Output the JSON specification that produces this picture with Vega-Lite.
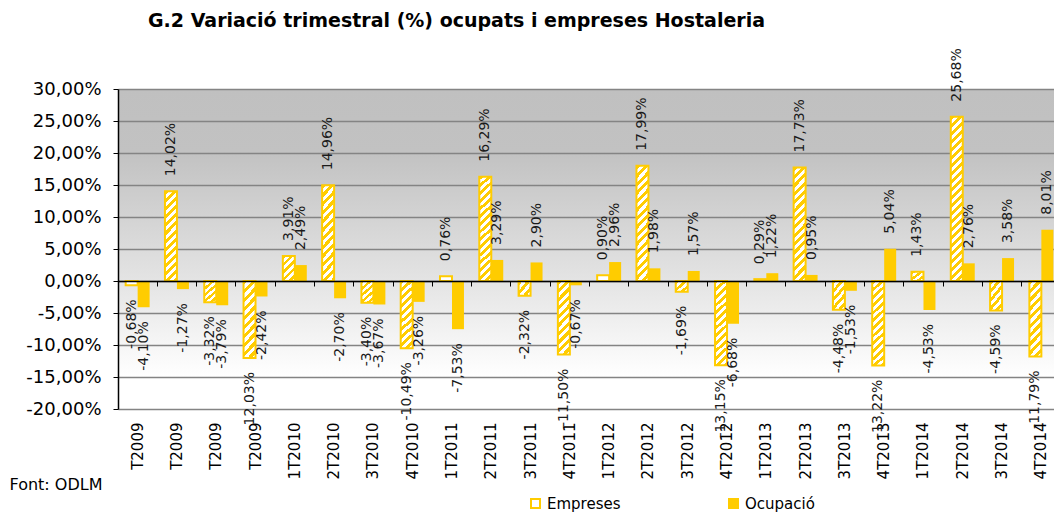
{
"$schema": "https://vega.github.io/schema/vega-lite/v6.json",
"width": 936, "height": 320,
"autosize": {"type": "none"},
"padding": {"left": 118, "top": 89, "right": 0, "bottom": 104},
"background": "white",
"view": {"stroke": null, "fill": {"gradient": "linear", "x1": 0, "y1": 0, "x2": 0, "y2": 1, "stops": [{"offset": 0, "color": "#C0C0C0"}, {"offset": 0.2, "color": "#C2C2C2"}, {"offset": 0.6, "color": "#E4E4E4"}, {"offset": 0.9, "color": "#FFFFFF"}, {"offset": 1, "color": "#FFFFFF"}]}},
"title": {"text": "G.2 Variació trimestral (%) ocupats i empreses Hostaleria", "anchor": "start", "frame": "group", "dx": 30, "offset": 17, "fontSize": 19, "fontWeight": "bold", "color": "#000"},
"datasets": {"d": [
{"t":"1T2009","serie":"Empreses","v":-0.0068},{"t":"1T2009","serie":"Ocupació","v":-0.041},
{"t":"2T2009","serie":"Empreses","v":0.1402},{"t":"2T2009","serie":"Ocupació","v":-0.0127},
{"t":"3T2009","serie":"Empreses","v":-0.0332},{"t":"3T2009","serie":"Ocupació","v":-0.0379},
{"t":"4T2009","serie":"Empreses","v":-0.1203},{"t":"4T2009","serie":"Ocupació","v":-0.0242},
{"t":"1T2010","serie":"Empreses","v":0.0391},{"t":"1T2010","serie":"Ocupació","v":0.0249},
{"t":"2T2010","serie":"Empreses","v":0.1496},{"t":"2T2010","serie":"Ocupació","v":-0.027},
{"t":"3T2010","serie":"Empreses","v":-0.034},{"t":"3T2010","serie":"Ocupació","v":-0.0367},
{"t":"4T2010","serie":"Empreses","v":-0.1049},{"t":"4T2010","serie":"Ocupació","v":-0.0326},
{"t":"1T2011","serie":"Empreses","v":0.0076},{"t":"1T2011","serie":"Ocupació","v":-0.0753},
{"t":"2T2011","serie":"Empreses","v":0.1629},{"t":"2T2011","serie":"Ocupació","v":0.0329},
{"t":"3T2011","serie":"Empreses","v":-0.0232},{"t":"3T2011","serie":"Ocupació","v":0.029},
{"t":"4T2011","serie":"Empreses","v":-0.115},{"t":"4T2011","serie":"Ocupació","v":-0.0067},
{"t":"1T2012","serie":"Empreses","v":0.009},{"t":"1T2012","serie":"Ocupació","v":0.0296},
{"t":"2T2012","serie":"Empreses","v":0.1799},{"t":"2T2012","serie":"Ocupació","v":0.0198},
{"t":"3T2012","serie":"Empreses","v":-0.0169},{"t":"3T2012","serie":"Ocupació","v":0.0157},
{"t":"4T2012","serie":"Empreses","v":-0.1315},{"t":"4T2012","serie":"Ocupació","v":-0.0668},
{"t":"1T2013","serie":"Empreses","v":0.0029},{"t":"1T2013","serie":"Ocupació","v":0.0122},
{"t":"2T2013","serie":"Empreses","v":0.1773},{"t":"2T2013","serie":"Ocupació","v":0.0095},
{"t":"3T2013","serie":"Empreses","v":-0.0448},{"t":"3T2013","serie":"Ocupació","v":-0.0153},
{"t":"4T2013","serie":"Empreses","v":-0.1322},{"t":"4T2013","serie":"Ocupació","v":0.0504},
{"t":"1T2014","serie":"Empreses","v":0.0143},{"t":"1T2014","serie":"Ocupació","v":-0.0453},
{"t":"2T2014","serie":"Empreses","v":0.2568},{"t":"2T2014","serie":"Ocupació","v":0.0276},
{"t":"3T2014","serie":"Empreses","v":-0.0459},{"t":"3T2014","serie":"Ocupació","v":0.0358},
{"t":"4T2014","serie":"Empreses","v":-0.1179},{"t":"4T2014","serie":"Ocupació","v":0.0801}
]},
"data": {"name": "d"},
"resolve": {"axis": {"x": "independent", "y": "independent"}},
"layer": [
{
"mark": {"type": "bar", "stroke": "#FFCC00"},
"encoding": {
"x": {"field": "t", "type": "nominal", "sort": null,
 "scale": {"domain": ["1T2009","2T2009","3T2009","4T2009","1T2010","2T2010","3T2010","4T2010","1T2011","2T2011","3T2011","4T2011","1T2012","2T2012","3T2012","4T2012","1T2013","2T2013","3T2013","4T2013","1T2014","2T2014","3T2014","4T2014"], "range": [0, 943], "paddingInner": 0, "paddingOuter": 0},
 "axis": {"orient": "bottom", "labelAngle": -90, "labelFontSize": 15, "labelColor": "#000", "labelPadding": 13, "ticks": false, "tickSize": 0, "domain": false, "grid": false,
  "labelExpr": "indexof(datum.label, '2009') >= 0 ? 'T2009' : datum.label",
  "title": "Font: ODLM", "titleX": -109, "titleY": 80, "titleAlign": "left", "titleAngle": 0, "titleBaseline": "alphabetic", "titleFontSize": 16, "titleFontWeight": "normal", "titleColor": "#000"}},
"xOffset": {"field": "serie", "type": "nominal", "scale": {"domain": ["Empreses", "Ocupació"], "paddingInner": 0, "paddingOuter": 0.64}},
"y": {"field": "v", "type": "quantitative", "scale": {"domain": [-0.2, 0.3], "nice": false},
 "axis": {"orient": "left", "values": [-0.2,-0.15,-0.1,-0.05,0,0.05,0.1,0.15,0.2,0.25,0.3], "tickCount": 11, "labelOverlap": false, "format": ".2%", "labelFontSize": 18, "labelColor": "#000", "labelPadding": 12, "tickSize": 5, "tickColor": "#000", "domain": true, "domainColor": "#000", "domainWidth": 1.5, "grid": true, "gridColor": "#848484", "gridWidth": 1.5, "title": null}},
"fill": {"field": "serie", "type": "nominal",
 "scale": {"domain": ["Empreses", "Ocupació"], "range": ["#FFFFFF", "#FFCC00"]},
 "legend": {"orient": "none", "legendX": 410, "legendY": 407, "direction": "horizontal", "title": null, "symbolType": "square", "symbolSize": 81, "symbolStrokeColor": "#FFCC00", "symbolStrokeWidth": 2, "labelFontSize": 15, "labelColor": "#000", "labelOffset": 4, "columnPadding": 104, "padding": 0},
 "condition": [
  {"test": "datum.serie == 'Empreses' && abs(datum.v) >= 0.01 && abs(datum.v) < 0.028", "value": {"gradient": "linear", "x1": 0, "y1": 0, "x2": 1, "y2": 1, "stops": [{"offset":0,"color":"#FC0"},{"offset":0.1667,"color":"#FC0"},{"offset":0.1667,"color":"#FFF"},{"offset":0.3333,"color":"#FFF"},{"offset":0.3333,"color":"#FC0"},{"offset":0.5,"color":"#FC0"},{"offset":0.5,"color":"#FFF"},{"offset":0.6667,"color":"#FFF"},{"offset":0.6667,"color":"#FC0"},{"offset":0.8333,"color":"#FC0"},{"offset":0.8333,"color":"#FFF"},{"offset":1,"color":"#FFF"}]}},
  {"test": "datum.serie == 'Empreses' && abs(datum.v) >= 0.028 && abs(datum.v) < 0.07", "value": {"gradient": "linear", "x1": 0, "y1": 0, "x2": 0.577, "y2": 1.203, "stops": [{"offset":0,"color":"#FC0"},{"offset":0.1,"color":"#FC0"},{"offset":0.1,"color":"#FFF"},{"offset":0.2,"color":"#FFF"},{"offset":0.2,"color":"#FC0"},{"offset":0.3,"color":"#FC0"},{"offset":0.3,"color":"#FFF"},{"offset":0.4,"color":"#FFF"},{"offset":0.4,"color":"#FC0"},{"offset":0.5,"color":"#FC0"},{"offset":0.5,"color":"#FFF"},{"offset":0.6,"color":"#FFF"},{"offset":0.6,"color":"#FC0"},{"offset":0.7,"color":"#FC0"},{"offset":0.7,"color":"#FFF"},{"offset":0.8,"color":"#FFF"},{"offset":0.8,"color":"#FC0"},{"offset":0.9,"color":"#FC0"},{"offset":0.9,"color":"#FFF"},{"offset":1,"color":"#FFF"}]}},
  {"test": "datum.serie == 'Empreses' && abs(datum.v) >= 0.1 && abs(datum.v) < 0.125", "value": {"gradient": "linear", "x1": 0, "y1": 0, "x2": 0.189, "y2": 1.135, "stops": [{"offset":0,"color":"#FC0"},{"offset":0.05,"color":"#FC0"},{"offset":0.05,"color":"#FFF"},{"offset":0.1,"color":"#FFF"},{"offset":0.1,"color":"#FC0"},{"offset":0.15,"color":"#FC0"},{"offset":0.15,"color":"#FFF"},{"offset":0.2,"color":"#FFF"},{"offset":0.2,"color":"#FC0"},{"offset":0.25,"color":"#FC0"},{"offset":0.25,"color":"#FFF"},{"offset":0.3,"color":"#FFF"},{"offset":0.3,"color":"#FC0"},{"offset":0.35,"color":"#FC0"},{"offset":0.35,"color":"#FFF"},{"offset":0.4,"color":"#FFF"},{"offset":0.4,"color":"#FC0"},{"offset":0.45,"color":"#FC0"},{"offset":0.45,"color":"#FFF"},{"offset":0.5,"color":"#FFF"},{"offset":0.5,"color":"#FC0"},{"offset":0.55,"color":"#FC0"},{"offset":0.55,"color":"#FFF"},{"offset":0.6,"color":"#FFF"},{"offset":0.6,"color":"#FC0"},{"offset":0.65,"color":"#FC0"},{"offset":0.65,"color":"#FFF"},{"offset":0.7,"color":"#FFF"},{"offset":0.7,"color":"#FC0"},{"offset":0.75,"color":"#FC0"},{"offset":0.75,"color":"#FFF"},{"offset":0.8,"color":"#FFF"},{"offset":0.8,"color":"#FC0"},{"offset":0.85,"color":"#FC0"},{"offset":0.85,"color":"#FFF"},{"offset":0.9,"color":"#FFF"},{"offset":0.9,"color":"#FC0"},{"offset":0.95,"color":"#FC0"},{"offset":0.95,"color":"#FFF"},{"offset":1,"color":"#FFF"}]}},
  {"test": "datum.serie == 'Empreses' && abs(datum.v) >= 0.125 && abs(datum.v) < 0.155", "value": {"gradient": "linear", "x1": 0, "y1": 0, "x2": 0.15, "y2": 1.115, "stops": [{"offset":0,"color":"#FC0"},{"offset":0.04,"color":"#FC0"},{"offset":0.04,"color":"#FFF"},{"offset":0.08,"color":"#FFF"},{"offset":0.08,"color":"#FC0"},{"offset":0.12,"color":"#FC0"},{"offset":0.12,"color":"#FFF"},{"offset":0.16,"color":"#FFF"},{"offset":0.16,"color":"#FC0"},{"offset":0.2,"color":"#FC0"},{"offset":0.2,"color":"#FFF"},{"offset":0.24,"color":"#FFF"},{"offset":0.24,"color":"#FC0"},{"offset":0.28,"color":"#FC0"},{"offset":0.28,"color":"#FFF"},{"offset":0.32,"color":"#FFF"},{"offset":0.32,"color":"#FC0"},{"offset":0.36,"color":"#FC0"},{"offset":0.36,"color":"#FFF"},{"offset":0.4,"color":"#FFF"},{"offset":0.4,"color":"#FC0"},{"offset":0.44,"color":"#FC0"},{"offset":0.44,"color":"#FFF"},{"offset":0.48,"color":"#FFF"},{"offset":0.48,"color":"#FC0"},{"offset":0.52,"color":"#FC0"},{"offset":0.52,"color":"#FFF"},{"offset":0.56,"color":"#FFF"},{"offset":0.56,"color":"#FC0"},{"offset":0.6,"color":"#FC0"},{"offset":0.6,"color":"#FFF"},{"offset":0.64,"color":"#FFF"},{"offset":0.64,"color":"#FC0"},{"offset":0.68,"color":"#FC0"},{"offset":0.68,"color":"#FFF"},{"offset":0.72,"color":"#FFF"},{"offset":0.72,"color":"#FC0"},{"offset":0.76,"color":"#FC0"},{"offset":0.76,"color":"#FFF"},{"offset":0.8,"color":"#FFF"},{"offset":0.8,"color":"#FC0"},{"offset":0.84,"color":"#FC0"},{"offset":0.84,"color":"#FFF"},{"offset":0.88,"color":"#FFF"},{"offset":0.88,"color":"#FC0"},{"offset":0.92,"color":"#FC0"},{"offset":0.92,"color":"#FFF"},{"offset":0.96,"color":"#FFF"},{"offset":0.96,"color":"#FC0"},{"offset":1,"color":"#FC0"}]}},
  {"test": "datum.serie == 'Empreses' && abs(datum.v) >= 0.155 && abs(datum.v) < 0.2", "value": {"gradient": "linear", "x1": 0, "y1": 0, "x2": 0.118, "y2": 1.095, "stops": [{"offset":0,"color":"#FC0"},{"offset":0.0333,"color":"#FC0"},{"offset":0.0333,"color":"#FFF"},{"offset":0.0667,"color":"#FFF"},{"offset":0.0667,"color":"#FC0"},{"offset":0.1,"color":"#FC0"},{"offset":0.1,"color":"#FFF"},{"offset":0.1333,"color":"#FFF"},{"offset":0.1333,"color":"#FC0"},{"offset":0.1667,"color":"#FC0"},{"offset":0.1667,"color":"#FFF"},{"offset":0.2,"color":"#FFF"},{"offset":0.2,"color":"#FC0"},{"offset":0.2333,"color":"#FC0"},{"offset":0.2333,"color":"#FFF"},{"offset":0.2667,"color":"#FFF"},{"offset":0.2667,"color":"#FC0"},{"offset":0.3,"color":"#FC0"},{"offset":0.3,"color":"#FFF"},{"offset":0.3333,"color":"#FFF"},{"offset":0.3333,"color":"#FC0"},{"offset":0.3667,"color":"#FC0"},{"offset":0.3667,"color":"#FFF"},{"offset":0.4,"color":"#FFF"},{"offset":0.4,"color":"#FC0"},{"offset":0.4333,"color":"#FC0"},{"offset":0.4333,"color":"#FFF"},{"offset":0.4667,"color":"#FFF"},{"offset":0.4667,"color":"#FC0"},{"offset":0.5,"color":"#FC0"},{"offset":0.5,"color":"#FFF"},{"offset":0.5333,"color":"#FFF"},{"offset":0.5333,"color":"#FC0"},{"offset":0.5667,"color":"#FC0"},{"offset":0.5667,"color":"#FFF"},{"offset":0.6,"color":"#FFF"},{"offset":0.6,"color":"#FC0"},{"offset":0.6333,"color":"#FC0"},{"offset":0.6333,"color":"#FFF"},{"offset":0.6667,"color":"#FFF"},{"offset":0.6667,"color":"#FC0"},{"offset":0.7,"color":"#FC0"},{"offset":0.7,"color":"#FFF"},{"offset":0.7333,"color":"#FFF"},{"offset":0.7333,"color":"#FC0"},{"offset":0.7667,"color":"#FC0"},{"offset":0.7667,"color":"#FFF"},{"offset":0.8,"color":"#FFF"},{"offset":0.8,"color":"#FC0"},{"offset":0.8333,"color":"#FC0"},{"offset":0.8333,"color":"#FFF"},{"offset":0.8667,"color":"#FFF"},{"offset":0.8667,"color":"#FC0"},{"offset":0.9,"color":"#FC0"},{"offset":0.9,"color":"#FFF"},{"offset":0.9333,"color":"#FFF"},{"offset":0.9333,"color":"#FC0"},{"offset":0.9667,"color":"#FC0"},{"offset":0.9667,"color":"#FFF"},{"offset":1,"color":"#FFF"}]}},
  {"test": "datum.serie == 'Empreses' && abs(datum.v) >= 0.2", "value": {"gradient": "linear", "x1": 0, "y1": 0, "x2": 0.078, "y2": 1.067, "stops": [{"offset":0,"color":"#FC0"},{"offset":0.0227,"color":"#FC0"},{"offset":0.0227,"color":"#FFF"},{"offset":0.0455,"color":"#FFF"},{"offset":0.0455,"color":"#FC0"},{"offset":0.0682,"color":"#FC0"},{"offset":0.0682,"color":"#FFF"},{"offset":0.0909,"color":"#FFF"},{"offset":0.0909,"color":"#FC0"},{"offset":0.1136,"color":"#FC0"},{"offset":0.1136,"color":"#FFF"},{"offset":0.1364,"color":"#FFF"},{"offset":0.1364,"color":"#FC0"},{"offset":0.1591,"color":"#FC0"},{"offset":0.1591,"color":"#FFF"},{"offset":0.1818,"color":"#FFF"},{"offset":0.1818,"color":"#FC0"},{"offset":0.2045,"color":"#FC0"},{"offset":0.2045,"color":"#FFF"},{"offset":0.2273,"color":"#FFF"},{"offset":0.2273,"color":"#FC0"},{"offset":0.25,"color":"#FC0"},{"offset":0.25,"color":"#FFF"},{"offset":0.2727,"color":"#FFF"},{"offset":0.2727,"color":"#FC0"},{"offset":0.2955,"color":"#FC0"},{"offset":0.2955,"color":"#FFF"},{"offset":0.3182,"color":"#FFF"},{"offset":0.3182,"color":"#FC0"},{"offset":0.3409,"color":"#FC0"},{"offset":0.3409,"color":"#FFF"},{"offset":0.3636,"color":"#FFF"},{"offset":0.3636,"color":"#FC0"},{"offset":0.3864,"color":"#FC0"},{"offset":0.3864,"color":"#FFF"},{"offset":0.4091,"color":"#FFF"},{"offset":0.4091,"color":"#FC0"},{"offset":0.4318,"color":"#FC0"},{"offset":0.4318,"color":"#FFF"},{"offset":0.4545,"color":"#FFF"},{"offset":0.4545,"color":"#FC0"},{"offset":0.4773,"color":"#FC0"},{"offset":0.4773,"color":"#FFF"},{"offset":0.5,"color":"#FFF"},{"offset":0.5,"color":"#FC0"},{"offset":0.5227,"color":"#FC0"},{"offset":0.5227,"color":"#FFF"},{"offset":0.5455,"color":"#FFF"},{"offset":0.5455,"color":"#FC0"},{"offset":0.5682,"color":"#FC0"},{"offset":0.5682,"color":"#FFF"},{"offset":0.5909,"color":"#FFF"},{"offset":0.5909,"color":"#FC0"},{"offset":0.6136,"color":"#FC0"},{"offset":0.6136,"color":"#FFF"},{"offset":0.6364,"color":"#FFF"},{"offset":0.6364,"color":"#FC0"},{"offset":0.6591,"color":"#FC0"},{"offset":0.6591,"color":"#FFF"},{"offset":0.6818,"color":"#FFF"},{"offset":0.6818,"color":"#FC0"},{"offset":0.7045,"color":"#FC0"},{"offset":0.7045,"color":"#FFF"},{"offset":0.7273,"color":"#FFF"},{"offset":0.7273,"color":"#FC0"},{"offset":0.75,"color":"#FC0"},{"offset":0.75,"color":"#FFF"},{"offset":0.7727,"color":"#FFF"},{"offset":0.7727,"color":"#FC0"},{"offset":0.7955,"color":"#FC0"},{"offset":0.7955,"color":"#FFF"},{"offset":0.8182,"color":"#FFF"},{"offset":0.8182,"color":"#FC0"},{"offset":0.8409,"color":"#FC0"},{"offset":0.8409,"color":"#FFF"},{"offset":0.8636,"color":"#FFF"},{"offset":0.8636,"color":"#FC0"},{"offset":0.8864,"color":"#FC0"},{"offset":0.8864,"color":"#FFF"},{"offset":0.9091,"color":"#FFF"},{"offset":0.9091,"color":"#FC0"},{"offset":0.9318,"color":"#FC0"},{"offset":0.9318,"color":"#FFF"},{"offset":0.9545,"color":"#FFF"},{"offset":0.9545,"color":"#FC0"},{"offset":0.9773,"color":"#FC0"},{"offset":0.9773,"color":"#FFF"},{"offset":1,"color":"#FFF"}]}}
 ]},
"strokeWidth": {"condition": {"test": "datum.serie == 'Ocupació'", "value": 0}, "value": 2}
}
},
{
"transform": [{"filter": "datum.v >= 0"}],
"mark": {"type": "text", "angle": 270, "align": "left", "baseline": "middle", "dx": 15, "fontSize": 14, "color": "#1a1a1a"},
"encoding": {
"x": {"field": "t", "type": "nominal", "sort": null,
 "axis": {"orient": "top", "offset": -192, "labels": false, "ticks": true, "tickSize": -5, "tickColor": "#000", "tickWidth": 1, "bandPosition": 0, "domain": true, "domainColor": "#000", "domainWidth": 1.5, "grid": false, "title": null, "zindex": 1}},
"xOffset": {"field": "serie", "type": "nominal"},
"y": {"field": "v", "type": "quantitative", "axis": null},
"text": {"field": "v", "type": "quantitative", "format": ".2%"}
}
},
{
"transform": [{"filter": "datum.v < 0"}],
"mark": {"type": "text", "angle": 270, "align": "right", "baseline": "middle", "dx": -14, "fontSize": 14, "color": "#1a1a1a"},
"encoding": {
"x": {"field": "t", "type": "nominal", "sort": null, "axis": null},
"xOffset": {"field": "serie", "type": "nominal"},
"y": {"field": "v", "type": "quantitative", "axis": null},
"text": {"field": "v", "type": "quantitative", "format": ".2%"}
}
}
],
"config": {
"font": "DejaVu Sans",
"locale": {"number": {"decimal": ",", "thousands": ".", "grouping": [3], "currency": ["", " €"], "minus": "-"}}
}
}
